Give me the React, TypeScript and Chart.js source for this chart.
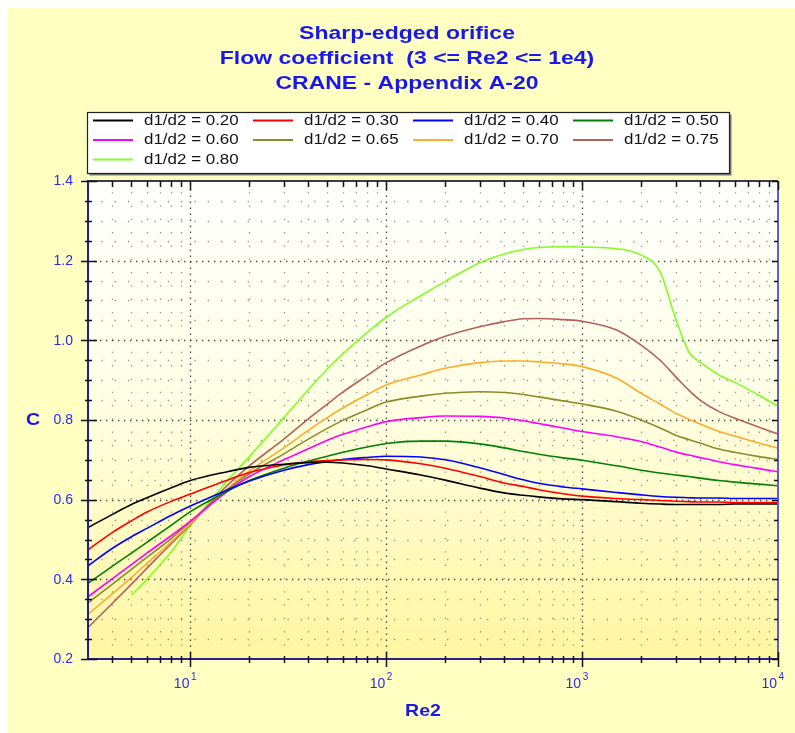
import React, { useEffect, useRef } from "react";
import { Chart, registerables } from "chart.js";

Chart.register(...registerables);

// ---------- DATA ----------
const RE = [3, 4, 5, 6, 8, 10, 15, 20, 30, 40, 50, 60, 80, 100, 150, 200, 300, 400, 500, 600, 800, 1000, 1500, 2000, 2500, 3000, 3500, 4000, 5000, 6000, 8000, 10000];

const C_020 = [0.530, 0.563, 0.588, 0.605, 0.630, 0.648, 0.669, 0.681, 0.689, 0.693, 0.694, 0.692, 0.685, 0.677, 0.662, 0.649, 0.629, 0.617, 0.611, 0.607, 0.602, 0.600, 0.595, 0.591, 0.589, 0.588, 0.588, 0.588, 0.588, 0.589, 0.589, 0.589];
const C_030 = [0.474, 0.518, 0.547, 0.569, 0.596, 0.614, 0.647, 0.668, 0.687, 0.695, 0.698, 0.700, 0.701, 0.700, 0.690, 0.679, 0.658, 0.642, 0.633, 0.625, 0.615, 0.609, 0.603, 0.600, 0.598, 0.596, 0.595, 0.594, 0.594, 0.593, 0.593, 0.593];
const C_040 = [0.434, 0.478, 0.507, 0.528, 0.561, 0.584, 0.622, 0.647, 0.674, 0.688, 0.696, 0.701, 0.706, 0.709, 0.707, 0.700, 0.680, 0.663, 0.650, 0.641, 0.632, 0.627, 0.618, 0.612, 0.608, 0.606, 0.605, 0.604, 0.604, 0.603, 0.603, 0.603];
const C_050 = [0.390, 0.433, 0.466, 0.493, 0.536, 0.570, 0.618, 0.648, 0.679, 0.697, 0.709, 0.719, 0.732, 0.741, 0.747, 0.747, 0.740, 0.730, 0.721, 0.714, 0.705, 0.699, 0.685, 0.674, 0.667, 0.662, 0.658, 0.654, 0.648, 0.644, 0.639, 0.635];
const C_060 = [0.356, 0.402, 0.437, 0.466, 0.510, 0.546, 0.616, 0.658, 0.700, 0.728, 0.749, 0.764, 0.783, 0.796, 0.806, 0.810, 0.809, 0.805, 0.798, 0.791, 0.780, 0.771, 0.758, 0.746, 0.732, 0.720, 0.712, 0.706, 0.695, 0.688, 0.678, 0.670];
const C_065 = [0.341, 0.388, 0.425, 0.455, 0.503, 0.545, 0.620, 0.665, 0.715, 0.752, 0.779, 0.799, 0.826, 0.845, 0.860, 0.867, 0.871, 0.869, 0.864, 0.858, 0.848, 0.840, 0.822, 0.800, 0.780, 0.762, 0.751, 0.742, 0.727, 0.719, 0.708, 0.701];
const C_070 = [0.312, 0.364, 0.405, 0.440, 0.495, 0.540, 0.622, 0.672, 0.730, 0.774, 0.806, 0.830, 0.864, 0.888, 0.913, 0.930, 0.944, 0.948, 0.948, 0.946, 0.941, 0.934, 0.905, 0.867, 0.840, 0.817, 0.802, 0.790, 0.771, 0.760, 0.742, 0.729];
const C_075 = [0.279, 0.340, 0.388, 0.428, 0.490, 0.538, 0.630, 0.685, 0.752, 0.803, 0.840, 0.870, 0.912, 0.944, 0.986, 1.010, 1.034, 1.047, 1.054, 1.055, 1.052, 1.048, 1.026, 0.988, 0.950, 0.909, 0.875, 0.850, 0.821, 0.805, 0.782, 0.765];
const C_080 = [null, null, 0.360, 0.400, 0.470, 0.535, 0.640, 0.708, 0.806, 0.876, 0.928, 0.966, 1.020, 1.058, 1.112, 1.148, 1.195, 1.217, 1.228, 1.233, 1.235, 1.234, 1.230, 1.214, 1.172, 1.055, 0.972, 0.945, 0.913, 0.895, 0.862, 0.835];

const SERIES = [C_020, C_030, C_040, C_050, C_060, C_065, C_070, C_075, C_080];
const SERIES_LABELS = ["d1/d2 = 0.20", "d1/d2 = 0.30", "d1/d2 = 0.40", "d1/d2 = 0.50", "d1/d2 = 0.60", "d1/d2 = 0.65", "d1/d2 = 0.70", "d1/d2 = 0.75", "d1/d2 = 0.80"];
const SERIES_COLORS = ["#000000", "#FF0000", "#0000FF", "#008000", "#FF00FF", "#8B8B2A", "#FFAA2A", "#B5605A", "#80FF20"];

const TITLE_LINES = ["Sharp-edged orifice", "Flow coefficient  (3 <= Re2 <= 1e4)", "CRANE - Appendix A-20"];
const X_TITLE = "Re2";
const Y_TITLE = "C";
const Y_LABEL_TICKS = [0.2, 0.4, 0.6, 0.8, 1.0, 1.2, 1.4];
const X_DECADES = [1, 2, 3, 4];
const X_MIN = 3;
const X_MAX = 10000;
const Y_MIN = 0.2;
const Y_MAX = 1.4;

// ---------- STYLE ----------
const W = 787;
const H = 725;
const FONT = '"Liberation Sans", Arial, sans-serif';
const PANEL = "#FFFFC2";
const TEXT_BLUE = "#1717EE";
const TICK_BLUE = "#2A2AF0";

function sText(ctx: CanvasRenderingContext2D, text: string, x: number, y: number, font: string, color: string, align: CanvasTextAlign, sx: number) {
  ctx.save();
  ctx.font = font;
  ctx.fillStyle = color;
  ctx.textBaseline = "middle";
  ctx.textAlign = align;
  ctx.translate(x, y);
  ctx.scale(sx, 1);
  ctx.fillText(text, 0, 0);
  ctx.restore();
}

function minorXValues(): number[] {
  const out: number[] = [];
  for (let d = 1; d <= 1000; d *= 10) {
    for (let m = 2; m <= 9; m++) {
      const v = m * d;
      if (v > X_MIN && v < X_MAX) out.push(v);
    }
  }
  return out;
}

function yStepValues(): { v: number; major: boolean }[] {
  const out: { v: number; major: boolean }[] = [];
  for (let i = 0; i <= 24; i++) {
    const v = Y_MIN + i * 0.05;
    out.push({ v, major: i % 4 === 0 });
  }
  return out;
}

const decorPlugin = {
  id: "decor",
  beforeDraw(chart: any) {
    const ctx: CanvasRenderingContext2D = chart.ctx;
    const { left, top, right, bottom } = chart.chartArea;
    const xs = chart.scales.x;
    const ys = chart.scales.y;
    ctx.save();
    ctx.fillStyle = PANEL;
    ctx.fillRect(0, 0, chart.width, chart.height);
    const g = ctx.createLinearGradient(0, top, 0, bottom);
    g.addColorStop(0, "#FFFFFF");
    g.addColorStop(0.45, "#FFFFE6");
    g.addColorStop(1, "#FFF6A0");
    ctx.fillStyle = g;
    ctx.fillRect(left, top, right - left, bottom - top);

    // minor grid
    ctx.lineWidth = 1.3;
    ctx.strokeStyle = "rgba(110,110,110,0.75)";
    ctx.setLineDash([1.3, 12]);
    for (const v of minorXValues()) {
      const px = Math.round(xs.getPixelForValue(v)) + 0.5;
      ctx.beginPath();
      ctx.moveTo(px, bottom);
      ctx.lineTo(px, top);
      ctx.stroke();
    }
    for (const s of yStepValues()) {
      if (s.major) continue;
      const py = Math.round(ys.getPixelForValue(s.v)) + 0.5;
      ctx.beginPath();
      ctx.moveTo(left, py);
      ctx.lineTo(right, py);
      ctx.stroke();
    }
    // major grid
    ctx.strokeStyle = "rgba(40,40,40,0.85)";
    ctx.setLineDash([1.4, 4.6]);
    for (const e of X_DECADES) {
      const v = Math.pow(10, e);
      if (v >= X_MAX) continue;
      const px = Math.round(xs.getPixelForValue(v)) + 0.5;
      ctx.beginPath();
      ctx.moveTo(px, bottom);
      ctx.lineTo(px, top);
      ctx.stroke();
    }
    for (const v of Y_LABEL_TICKS) {
      if (v <= Y_MIN || v >= Y_MAX) continue;
      const py = Math.round(ys.getPixelForValue(v)) + 0.5;
      ctx.beginPath();
      ctx.moveTo(left, py);
      ctx.lineTo(right, py);
      ctx.stroke();
    }
    ctx.restore();
  },
  afterDraw(chart: any) {
    const ctx: CanvasRenderingContext2D = chart.ctx;
    const { left, top, right, bottom } = chart.chartArea;
    const xs = chart.scales.x;
    const ys = chart.scales.y;
    ctx.save();
    ctx.setLineDash([]);

    // frame
    ctx.lineWidth = 2;
    ctx.strokeStyle = "#3a3a44";
    ctx.beginPath(); ctx.moveTo(left, top); ctx.lineTo(right, top); ctx.stroke();
    ctx.strokeStyle = "#5c5cd8";
    ctx.beginPath(); ctx.moveTo(right, top); ctx.lineTo(right, bottom); ctx.stroke();
    ctx.strokeStyle = "#1c1ca8";
    ctx.beginPath(); ctx.moveTo(left, top - 1); ctx.lineTo(left, bottom + 1); ctx.stroke();
    ctx.strokeStyle = "#24248c";
    ctx.beginPath(); ctx.moveTo(left - 1, bottom); ctx.lineTo(right + 1, bottom); ctx.stroke();

    // ticks
    ctx.strokeStyle = "#111111";
    ctx.lineWidth = 1.5;
    for (const s of yStepValues()) {
      const py = Math.round(ys.getPixelForValue(s.v)) + 0.5;
      ctx.beginPath();
      if (s.major) { ctx.moveTo(left - 7, py); ctx.lineTo(left + 9, py); }
      else { ctx.moveTo(left - 3, py); ctx.lineTo(left + 4, py); }
      ctx.stroke();
      ctx.beginPath();
      ctx.moveTo(right - (s.major ? 6 : 4), py); ctx.lineTo(right, py);
      ctx.stroke();
    }
    for (const v of minorXValues()) {
      const px = Math.round(xs.getPixelForValue(v)) + 0.5;
      ctx.beginPath(); ctx.moveTo(px, bottom - 3); ctx.lineTo(px, bottom + 4); ctx.stroke();
      ctx.beginPath(); ctx.moveTo(px, top); ctx.lineTo(px, top + 6); ctx.stroke();
    }
    for (const e of X_DECADES) {
      const px = Math.round(xs.getPixelForValue(Math.pow(10, e))) + 0.5;
      ctx.beginPath(); ctx.moveTo(px, bottom - 7); ctx.lineTo(px, bottom + 8); ctx.stroke();
      ctx.beginPath(); ctx.moveTo(px, top); ctx.lineTo(px, top + 9); ctx.stroke();
    }

    // y labels
    for (const v of Y_LABEL_TICKS) {
      const py = ys.getPixelForValue(v);
      sText(ctx, v.toFixed(1), left - 15, py + 0.5, `14px ${FONT}`, TICK_BLUE, "right", 1.0);
    }
    // x labels 10^n
    for (const e of X_DECADES) {
      const px = xs.getPixelForValue(Math.pow(10, e));
      sText(ctx, "10", px - 1, bottom + 25, `14px ${FONT}`, TICK_BLUE, "right", 1.0);
      sText(ctx, String(e), px + 0.5, bottom + 18, `10px ${FONT}`, TICK_BLUE, "left", 1.0);
    }

    // axis titles
    sText(ctx, X_TITLE, (left + right) / 2 - 10, bottom + 52, `bold 17px ${FONT}`, TEXT_BLUE, "center", 1.15);
    sText(ctx, Y_TITLE, 25, (top + bottom) / 2, `bold 17px ${FONT}`, TEXT_BLUE, "center", 1.15);

    // title
    TITLE_LINES.forEach((t, i) => {
      sText(ctx, t, 399, 25.5 + i * 25, `bold 19px ${FONT}`, TEXT_BLUE, "center", 1.21);
    });

    // legend
    const lx = 79.5, ly = 104.5, lw = 642, lh = 61;
    ctx.fillStyle = "#7a7a7a";
    ctx.fillRect(lx + 2, ly + 2, lw, lh);
    ctx.fillStyle = "#FFFFFF";
    ctx.fillRect(lx, ly, lw, lh);
    ctx.strokeStyle = "#222222";
    ctx.lineWidth = 1.2;
    ctx.strokeRect(lx, ly, lw, lh);
    chart.data.datasets.forEach((ds: any, i: number) => {
      const col = i % 4;
      const row = Math.floor(i / 4);
      const x = 85 + col * 160;
      const y = 112.5 + row * 19.5;
      ctx.strokeStyle = ds.borderColor;
      ctx.lineWidth = 2;
      ctx.beginPath();
      ctx.moveTo(x, y);
      ctx.lineTo(x + 40, y);
      ctx.stroke();
      sText(ctx, ds.label, x + 51, y, `15px ${FONT}`, "#111111", "left", 1.13);
    });
    ctx.restore();
  },
};

export default function App() {
  const ref = useRef<HTMLCanvasElement | null>(null);
  useEffect(() => {
    if (!ref.current) return;
    const datasets = SERIES.map((vals, i) => ({
      label: SERIES_LABELS[i],
      data: RE.map((x, j) => ({ x, y: vals[j] })).filter((p) => p.y !== null),
      borderColor: SERIES_COLORS[i],
      backgroundColor: SERIES_COLORS[i],
      borderWidth: 1.6,
      pointRadius: 0,
      fill: false,
      cubicInterpolationMode: "monotone" as const,
    }));
    const chart = new Chart(ref.current, {
      type: "line",
      data: { datasets },
      options: {
        animation: false,
        responsive: false,
        devicePixelRatio: 1,
        layout: { padding: { left: 80, top: 173, right: 17, bottom: 74 } },
        plugins: {
          legend: { display: false },
          title: { display: false },
          tooltip: { enabled: false },
        },
        scales: {
          x: { type: "logarithmic", min: X_MIN, max: X_MAX, display: false },
          y: { type: "linear", min: Y_MIN, max: Y_MAX, display: false },
        },
      },
      plugins: [decorPlugin],
    });
    return () => chart.destroy();
  }, []);
  return (
    <div style={{ position: "fixed", left: 8, top: 8, width: W, height: H }}>
      <canvas ref={ref} width={W} height={H} style={{ display: "block", width: W, height: H }} />
    </div>
  );
}
